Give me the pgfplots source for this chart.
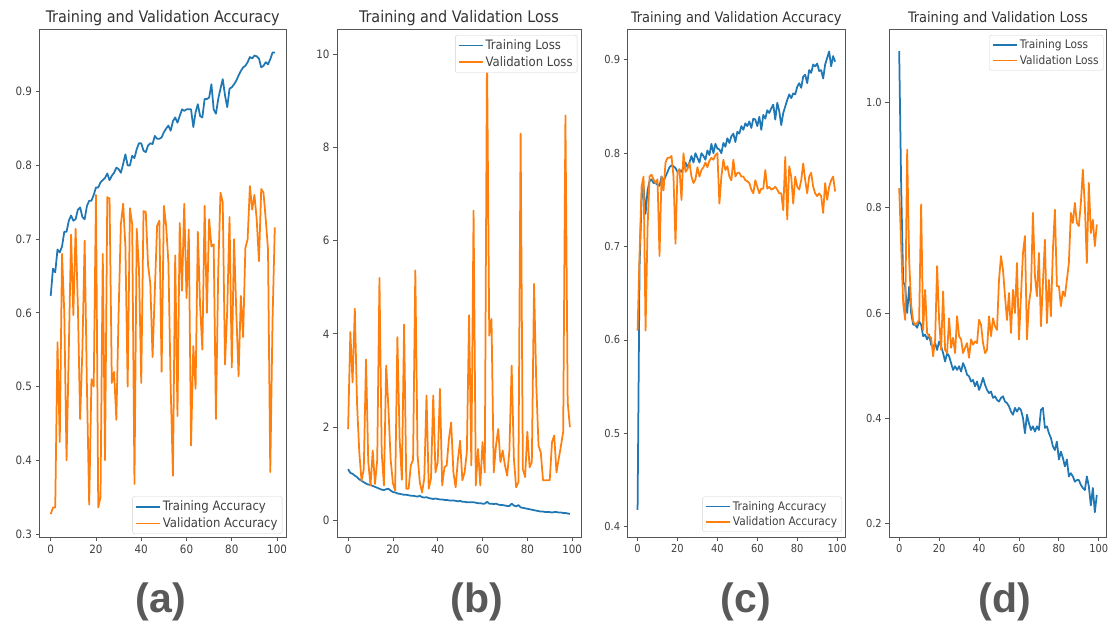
\documentclass[border=0pt]{standalone}
\usepackage{fontspec}
\setmainfont{DejaVu Sans Condensed}
\newfontfamily\labelfont{Liberation Sans}
\usepackage{pgfplots}
\pgfplotsset{compat=1.18}
\usepackage{pgfplotstable}

\definecolor{tabblue}{HTML}{1F77B4}
\definecolor{taborange}{HTML}{FF7F0E}
\definecolor{framegray}{HTML}{555555}
\definecolor{labelgray}{HTML}{595959}

% epoch, training, validation
\pgfplotstableread{
e tr va
0 0.623 0.327
1 0.660 0.336
2 0.655 0.336
3 0.686 0.560
4 0.682 0.425
5 0.690 0.680
6 0.710 0.600
7 0.710 0.400
8 0.725 0.550
9 0.732 0.706
10 0.725 0.597
11 0.727 0.714
12 0.740 0.610
13 0.743 0.456
14 0.730 0.550
15 0.727 0.698
16 0.745 0.500
17 0.752 0.340
18 0.752 0.510
19 0.760 0.500
20 0.770 0.760
21 0.770 0.336
22 0.777 0.350
23 0.780 0.680
24 0.783 0.400
25 0.789 0.757
26 0.780 0.755
27 0.786 0.505
28 0.790 0.520
29 0.797 0.455
30 0.795 0.600
31 0.790 0.720
32 0.802 0.748
33 0.815 0.690
34 0.800 0.500
35 0.800 0.742
36 0.813 0.720
37 0.810 0.368
38 0.822 0.714
39 0.830 0.660
40 0.830 0.505
41 0.820 0.738
42 0.818 0.737
43 0.827 0.665
44 0.830 0.640
45 0.829 0.540
46 0.840 0.630
47 0.836 0.718
48 0.836 0.725
49 0.838 0.520
50 0.845 0.745
51 0.850 0.718
52 0.854 0.668
53 0.847 0.500
54 0.860 0.379
55 0.865 0.678
56 0.858 0.460
57 0.867 0.722
58 0.876 0.630
59 0.874 0.748
60 0.876 0.620
61 0.876 0.713
62 0.876 0.420
63 0.852 0.555
64 0.872 0.497
65 0.883 0.710
66 0.867 0.610
67 0.865 0.550
68 0.890 0.745
69 0.890 0.600
70 0.892 0.727
71 0.910 0.690
72 0.876 0.693
73 0.870 0.456
74 0.890 0.655
75 0.904 0.763
76 0.917 0.750
77 0.895 0.530
78 0.879 0.605
79 0.904 0.730
80 0.906 0.526
81 0.910 0.700
82 0.915 0.600
83 0.922 0.514
84 0.928 0.623
85 0.933 0.567
86 0.935 0.688
87 0.940 0.700
88 0.947 0.772
89 0.945 0.740
90 0.949 0.760
91 0.948 0.727
92 0.945 0.670
93 0.933 0.768
94 0.935 0.763
95 0.940 0.727
96 0.937 0.686
97 0.944 0.384
98 0.953 0.590
99 0.953 0.716
}\dataA

\pgfplotstableread{
e tr va
0 1.10 1.96
1 1.02 4.04
2 1.00 2.96
3 0.96 4.54
4 0.93 2.50
5 0.88 1.46
6 0.85 0.85
7 0.82 1.10
8 0.79 3.45
9 0.77 1.25
10 0.76 0.75
11 0.74 1.50
12 0.72 0.78
13 0.70 1.30
14 0.68 5.20
15 0.66 1.46
16 0.65 0.75
17 0.67 3.32
18 0.68 2.40
19 0.64 1.30
20 0.61 0.80
21 0.60 0.64
22 0.58 3.93
23 0.57 1.75
24 0.56 0.87
25 0.55 4.20
26 0.55 0.68
27 0.54 0.68
28 0.53 1.18
29 0.53 1.30
30 0.52 5.36
31 0.51 1.40
32 0.53 0.82
33 0.50 0.60
34 0.49 0.90
35 0.50 2.68
36 0.48 0.68
37 0.47 0.90
38 0.46 2.68
39 0.47 1.03
40 0.46 1.25
41 0.45 2.82
42 0.45 0.75
43 0.44 1.14
44 0.44 1.18
45 0.43 1.75
46 0.43 2.10
47 0.43 1.03
48 0.42 0.71
49 0.41 1.30
50 0.42 1.71
51 0.40 0.86
52 0.40 1.03
53 0.39 1.46
54 0.39 4.40
55 0.39 1.18
56 0.39 6.64
57 0.38 0.75
58 0.37 1.53
59 0.37 0.75
60 0.36 1.68
61 0.36 1.03
62 0.40 10.04
63 0.36 3.96
64 0.36 4.32
65 0.35 1.03
66 0.36 1.60
67 0.34 1.96
68 0.33 1.25
69 0.33 1.50
70 0.32 1.18
71 0.31 0.96
72 0.31 1.50
73 0.36 3.32
74 0.32 1.32
75 0.30 0.71
76 0.33 0.82
77 0.28 8.29
78 0.27 1.10
79 0.26 0.93
80 0.25 1.90
81 0.24 1.14
82 0.23 1.25
83 0.22 5.07
84 0.21 2.90
85 0.20 1.60
86 0.19 1.46
87 0.19 0.86
88 0.18 0.86
89 0.18 0.86
90 0.18 0.86
91 0.17 1.68
92 0.18 1.82
93 0.18 1.03
94 0.17 1.32
95 0.17 1.60
96 0.16 1.90
97 0.16 8.68
98 0.15 2.54
99 0.14 2.00
}\dataB

\pgfplotstableread{
e tr va
0 0.418 0.610
1 0.680 0.693
2 0.750 0.764
3 0.765 0.775
4 0.735 0.610
5 0.760 0.720
6 0.770 0.775
7 0.772 0.777
8 0.768 0.772
9 0.768 0.768
10 0.766 0.772
11 0.765 0.690
12 0.775 0.775
13 0.770 0.760
14 0.775 0.790
15 0.780 0.795
16 0.785 0.795
17 0.787 0.797
18 0.786 0.775
19 0.784 0.703
20 0.780 0.780
21 0.782 0.783
22 0.780 0.750
23 0.785 0.800
24 0.790 0.780
25 0.785 0.783
26 0.790 0.790
27 0.797 0.775
28 0.790 0.768
29 0.800 0.772
30 0.795 0.785
31 0.790 0.775
32 0.800 0.782
33 0.797 0.785
34 0.793 0.790
35 0.803 0.785
36 0.798 0.792
37 0.810 0.795
38 0.800 0.793
39 0.810 0.798
40 0.805 0.800
41 0.804 0.746
42 0.800 0.775
43 0.811 0.793
44 0.807 0.782
45 0.816 0.786
46 0.811 0.775
47 0.818 0.771
48 0.821 0.793
49 0.812 0.775
50 0.823 0.779
51 0.821 0.779
52 0.829 0.775
53 0.825 0.775
54 0.832 0.771
55 0.829 0.770
56 0.834 0.768
57 0.827 0.761
58 0.837 0.757
59 0.836 0.771
60 0.829 0.764
61 0.839 0.757
62 0.825 0.762
63 0.841 0.762
64 0.837 0.782
65 0.846 0.762
66 0.843 0.764
67 0.848 0.761
68 0.852 0.762
69 0.836 0.764
70 0.854 0.761
71 0.845 0.757
72 0.830 0.757
73 0.843 0.739
74 0.850 0.796
75 0.857 0.729
76 0.863 0.786
77 0.859 0.775
78 0.864 0.746
79 0.863 0.775
80 0.871 0.764
81 0.875 0.761
82 0.870 0.771
83 0.882 0.789
84 0.884 0.771
85 0.875 0.757
86 0.889 0.775
87 0.886 0.779
88 0.895 0.764
89 0.893 0.757
90 0.896 0.754
91 0.888 0.757
92 0.889 0.754
93 0.880 0.736
94 0.895 0.768
95 0.902 0.750
96 0.909 0.764
97 0.893 0.771
98 0.904 0.775
99 0.898 0.759
}\dataC

\pgfplotstableread{
e tr va
0 1.097 0.837
1 0.840 0.727
2 0.660 0.619
3 0.650 0.587
4 0.600 0.910
5 0.650 0.700
6 0.600 0.616
7 0.578 0.584
8 0.578 0.578
9 0.572 0.581
10 0.584 0.587
11 0.578 0.806
12 0.556 0.568
13 0.559 0.644
14 0.550 0.562
15 0.559 0.556
16 0.540 0.553
17 0.534 0.518
18 0.543 0.550
19 0.530 0.689
20 0.546 0.587
21 0.537 0.530
22 0.524 0.641
23 0.508 0.530
24 0.524 0.524
25 0.518 0.590
26 0.505 0.534
27 0.492 0.553
28 0.499 0.524
29 0.492 0.594
30 0.499 0.556
31 0.489 0.550
32 0.505 0.524
33 0.496 0.534
34 0.483 0.543
35 0.480 0.515
36 0.470 0.550
37 0.473 0.540
38 0.461 0.546
39 0.470 0.543
40 0.454 0.587
41 0.464 0.578
42 0.477 0.543
43 0.464 0.524
44 0.454 0.530
45 0.448 0.594
46 0.451 0.556
47 0.439 0.590
48 0.442 0.575
49 0.435 0.568
50 0.432 0.663
51 0.439 0.708
52 0.442 0.682
53 0.432 0.632
54 0.429 0.587
55 0.423 0.638
56 0.413 0.562
57 0.407 0.644
58 0.420 0.600
59 0.413 0.695
60 0.420 0.550
61 0.416 0.632
62 0.401 0.714
63 0.372 0.746
64 0.407 0.550
65 0.391 0.619
66 0.378 0.644
67 0.385 0.790
68 0.375 0.670
69 0.385 0.632
70 0.378 0.714
71 0.416 0.575
72 0.420 0.657
73 0.382 0.739
74 0.385 0.581
75 0.372 0.663
76 0.363 0.594
77 0.347 0.720
78 0.340 0.796
79 0.356 0.651
80 0.322 0.651
81 0.337 0.613
82 0.325 0.641
83 0.309 0.632
84 0.322 0.663
85 0.290 0.695
86 0.296 0.790
87 0.290 0.771
88 0.280 0.809
89 0.283 0.771
90 0.283 0.765
91 0.274 0.809
92 0.268 0.872
93 0.264 0.803
94 0.290 0.695
95 0.271 0.847
96 0.235 0.752
97 0.268 0.777
98 0.222 0.727
99 0.255 0.768
}\dataD

\pgfplotsset{
  panel/.style={
    scale only axis, anchor=south west,
    xmin=-4.95, xmax=103.95,
    xtick={0,20,...,100},
    xtick pos=left, ytick pos=left,
    tick align=outside,
    major tick length=4pt,
    axis line style={framegray, line width=0.9pt},
    every tick/.style={framegray, line width=0.8pt},
    /pgf/number format/assume math mode=true,
    legend cell align=left,
    legend image code/.code={\draw[##1, line width=1.75pt] (0pt,0pt) -- (24pt,0pt);},
    every axis plot post/.append style={line width=1.75pt, line join=round},
  },
  bigtext/.style={
    tick label style={font=\fontsize{11.5}{13}\selectfont, text=black!75},
    title style={font=\fontsize{16}{18}\selectfont, text=black!80, yshift=-6pt},
    legend style={font=\fontsize{13}{15}\selectfont, text=black!75, draw=black!18,
      rounded corners=2pt, fill=white, inner sep=2.5pt, row sep=1.5pt},
  },
  smalltext/.style={
    tick label style={font=\fontsize{11}{13}\selectfont, text=black!75},
    title style={font=\fontsize{14.4}{16}\selectfont, text=black!80, yshift=-6pt},
    legend style={font=\fontsize{11.8}{14}\selectfont, text=black!75, draw=black!18,
      rounded corners=2pt, fill=white, inner sep=2.5pt, row sep=1pt},
  },
  accticks/.style={yticklabel style={/pgf/number format/.cd, fixed, fixed zerofill, precision=1}},
}

\begin{document}
\begin{tikzpicture}
\path[use as bounding box] (0pt,0pt) rectangle (1109pt,633pt);

% (a)
\begin{axis}[panel, bigtext, accticks,
  at={(39.5pt,96pt)}, width=246.5pt, height=508pt,
  ymin=0.296, ymax=0.985, ytick={0.3,0.4,...,0.91},
  title={Training and Validation Accuracy},
  legend style={at={(0.985,0.006)}, anchor=south east}]
\addplot[tabblue] table[x=e, y=tr] {\dataA};
\addlegendentry{Training Accuracy}
\addplot[taborange] table[x=e, y=va] {\dataA};
\addlegendentry{Validation Accuracy}
\end{axis}

% (b)
\begin{axis}[panel, bigtext,
  at={(337pt,96pt)}, width=244pt, height=508pt,
  ymin=-0.355, ymax=10.535, ytick={0,2,...,10},
  title={Training and Validation Loss},
  legend style={at={(0.985,0.988)}, anchor=north east}]
\addplot[tabblue] table[x=e, y=tr] {\dataB};
\addlegendentry{Training Loss}
\addplot[taborange] table[x=e, y=va] {\dataB};
\addlegendentry{Validation Loss}
\end{axis}

% (c)
\begin{axis}[panel, smalltext, accticks,
  at={(627.7pt,96pt)}, width=217.3pt, height=508pt,
  ymin=0.389, ymax=0.933, ytick={0.4,0.5,...,0.91},
  title={Training and Validation Accuracy},
  legend style={at={(0.985,0.01)}, anchor=south east}]
\addplot[tabblue] table[x=e, y=tr] {\dataC};
\addlegendentry{Training Accuracy}
\addplot[taborange] table[x=e, y=va] {\dataC};
\addlegendentry{Validation Accuracy}
\end{axis}

% (d)
\begin{axis}[panel, smalltext, accticks,
  at={(889.3pt,96pt)}, width=217.4pt, height=508pt,
  ymin=0.175, ymax=1.139, ytick={0.2,0.4,...,1.01},
  title={Training and Validation Loss},
  legend style={at={(0.985,0.988)}, anchor=north east}]
\addplot[tabblue] table[x=e, y=tr] {\dataD};
\addlegendentry{Training Loss}
\addplot[taborange] table[x=e, y=va] {\dataD};
\addlegendentry{Validation Loss}
\end{axis}

\begin{scope}[every node/.style={font=\labelfont\bfseries\fontsize{41}{41}\selectfont, text=labelgray}]
\node at (161pt,31pt) {(a)};
\node at (477pt,31pt) {(b)};
\node at (746pt,31pt) {(c)};
\node at (1005pt,31pt) {(d)};
\end{scope}
\end{tikzpicture}
\end{document}
